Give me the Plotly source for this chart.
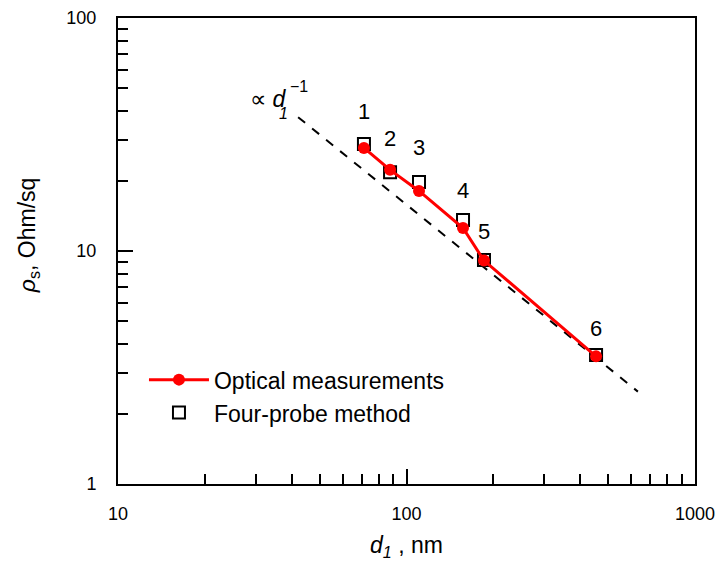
import plotly.graph_objects as go
import numpy as np

# Data
labels = ["1", "2", "3", "4", "5", "6"]
d1_nm = [71.2, 87.7, 110.5, 157, 185.6, 454]
rho_optical = [27.7, 22.3, 18.1, 12.55, 9.1, 3.53]
rho_fourprobe = [28.8, 21.8, 19.8, 13.6, 9.15, 3.58]
fit_x = [42.1, 634]
fit_const = 1580.0
fit_y = [fit_const / v for v in fit_x]

x_major = [10, 100, 1000]
x_minor = [20, 30, 40, 50, 60, 70, 80, 90, 200, 300, 400, 500, 600, 700, 800, 900]
y_major = [1, 10, 100]
y_minor = [2, 3, 4, 5, 6, 7, 8, 9, 20, 30, 40, 50, 60, 70, 80, 90]

FONT = "Liberation Sans, Arial, sans-serif"

fig = go.Figure()
fig.add_trace(go.Scatter(
    x=fit_x, y=fit_y, mode="lines",
    line=dict(color="black", width=2, dash="dash"),
    showlegend=False, hoverinfo="skip"))
fig.add_trace(go.Scatter(
    x=d1_nm, y=rho_fourprobe, mode="markers", name="Four-probe method",
    marker=dict(symbol="square-open", size=12, color="black", line=dict(width=2, color="black"))))
fig.add_trace(go.Scatter(
    x=d1_nm, y=rho_optical, mode="lines+markers", name="Optical measurements",
    line=dict(color="#ff0000", width=3),
    marker=dict(symbol="circle", size=12, color="#ff0000")))

# number labels
yshifts = [32, 34, 34, 29, 28, 26]
for lab, xv, yv, ys in zip(labels, d1_nm, rho_fourprobe, yshifts):
    fig.add_annotation(x=np.log10(xv), y=np.log10(yv), text=lab, showarrow=False,
                       yshift=ys, font=dict(size=22, color="black", family=FONT),
                       xanchor="center", yanchor="middle")

# proportionality label
ax0, ay0 = np.log10(fit_x[0]), np.log10(fit_y[0])
fig.add_annotation(x=ax0, y=ay0, text="∝ <i>d</i>",
                   showarrow=False, xanchor="right", yanchor="middle",
                   xshift=-10, yshift=18, font=dict(size=23, color="black", family=FONT))
fig.add_annotation(x=ax0, y=ay0, text="<i>1</i>",
                   showarrow=False, xanchor="center", yanchor="middle",
                   xshift=-15, yshift=4, font=dict(size=16, color="black", family=FONT))
fig.add_annotation(x=ax0, y=ay0, text="−1",
                   showarrow=False, xanchor="left", yanchor="middle",
                   xshift=-10, yshift=31, font=dict(size=16, color="black", family=FONT))

# y-axis title
fig.add_annotation(xref="paper", yref="paper", x=-0.156, y=0.534,
                   text="<i>ρ</i><sub>s</sub>, Ohm/sq", textangle=-90, showarrow=False,
                   xanchor="center", yanchor="middle",
                   font=dict(size=23, color="black", family=FONT))

fig.update_xaxes(
    type="log", range=[1, 3], tickvals=x_major, ticktext=["10", "100", "1000"],
    ticks="inside", ticklen=15, tickwidth=2, tickcolor="black",
    minor=dict(tickvals=x_minor, ticks="inside", ticklen=10, tickwidth=2, tickcolor="black", showgrid=False),
    showline=True, linecolor="black", linewidth=2, mirror=True, showgrid=False, zeroline=False,
    tickfont=dict(size=18, color="black", family=FONT), ticklabelstandoff=12, automargin=False,
    title=dict(text="<i>d</i><sub><i>1</i></sub> , nm", font=dict(size=23, color="black", family=FONT), standoff=20))
fig.update_yaxes(
    type="log", range=[0, 2], tickvals=y_major, ticktext=["1", "10", "100"],
    ticks="inside", ticklen=15, tickwidth=2, tickcolor="black",
    minor=dict(tickvals=y_minor, ticks="inside", ticklen=10, tickwidth=2, tickcolor="black", showgrid=False),
    showline=True, linecolor="black", linewidth=2, mirror=True, showgrid=False, zeroline=False,
    tickfont=dict(size=18, color="black", family=FONT), ticklabelstandoff=16, automargin=False)

fig.update_layout(
    width=718, height=561,
    margin=dict(l=118, r=23, t=18, b=77, autoexpand=False),
    plot_bgcolor="white", paper_bgcolor="white",
    font=dict(family=FONT, color="black"),
    legend=dict(x=0.045, y=0.27, xanchor="left", yanchor="top",
                bgcolor="rgba(0,0,0,0)", traceorder="reversed",
                font=dict(size=23, color="black", family=FONT),
                itemwidth=60, tracegroupgap=0),
)

fig.write_html("out.html")
